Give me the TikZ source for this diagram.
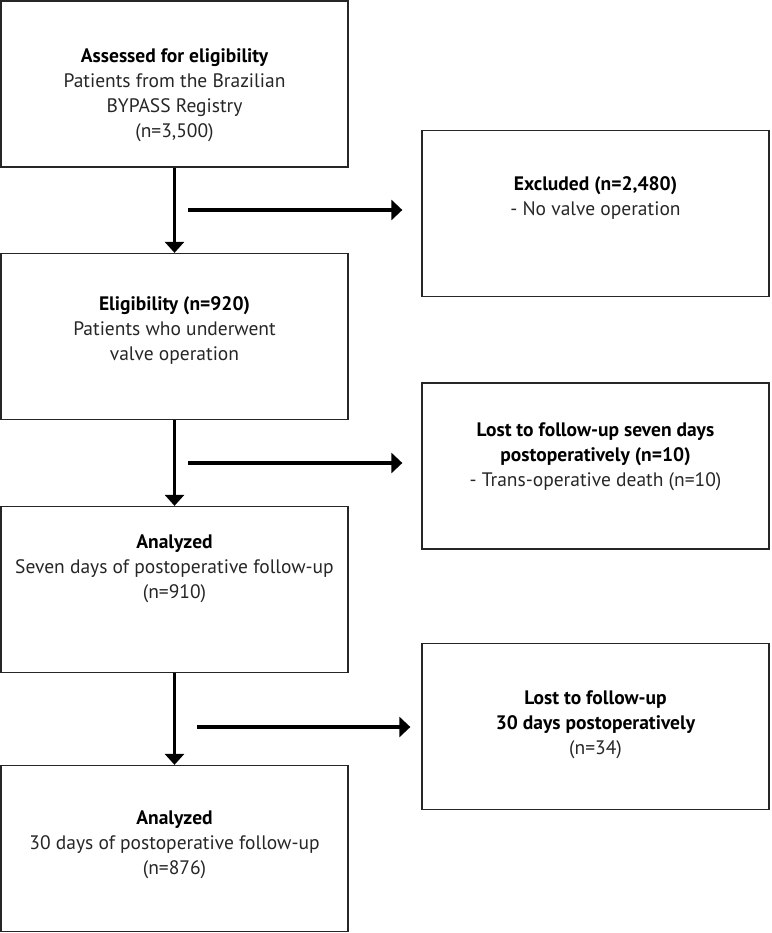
\documentclass[tikz,border=0pt]{standalone}
\usepackage{fontspec}
\setmainfont{PT Sans}
\usetikzlibrary{arrows.meta}

\begin{document}
\begin{tikzpicture}[
	x=1pt, y=-1pt,
	box/.style = {draw=black!85, line width=1.3pt, minimum width=347pt, minimum height=166pt, inner sep=0pt},
	txt/.style = {align=center, inner sep=0pt, text=black!85, font=\fontsize{19.5}{25}\selectfont},
	down/.style = {line width=3pt, -{Triangle[width=19pt, length=11pt]}},
	side/.style = {line width=4pt, -{Triangle[width=20pt, length=11pt]}},
]
	\useasboundingbox (0,0) rectangle (771,933);

	%% The main column
	\node [box] at (174.5, 84) (assessed) {};
	\node [box] at (174.5, 336.5) (eligible) {};
	\node [box] at (174.5, 589.5) (seven) {};
	\node [box] at (174.5, 848.5) (thirty) {};

	%% The side column
	\node [box] at (595.5, 213.5) (excluded) {};
	\node [box] at (595.5, 466) (lostseven) {};
	\node [box] at (595.5, 726.5) (lostthirty) {};

	%% Texts of the main column
	\node [txt] at (174.5, 95) (assessed-t) {\textbf{\color{black}Assessed for eligibility}\\Patients from the Brazilian\\BYPASS Registry\\(n=3,500)};
	\node [txt] at (174.5, 330) (eligible-t) {\textbf{\color{black}Eligibility (n=920)}\\Patients who underwent\\valve operation};
	\node [txt] at (174.5, 568.5) (seven-t) {\textbf{\color{black}Analyzed}\\Seven days of postoperative follow-up\\(n=910)};
	\node [txt] at (174.5, 845) (thirty-t) {\textbf{\color{black}Analyzed}\\30 days of postoperative follow-up\\(n=876)};

	%% Texts of the side column
	\node [txt] at (595.5, 197.5) (excluded-t) {\textbf{\color{black}Excluded (n=2,480)}\\- No valve operation};
	\node [txt] at (595.5, 456.5) (lostseven-t) {\textbf{\color{black}Lost to follow-up seven days}\\\textbf{\color{black}postoperatively (n=10)}\\- Trans-operative death (n=10)};
	\node [txt] at (595.5, 724.5) (lostthirty-t) {\textbf{\color{black}Lost to follow-up}\\\textbf{\color{black}30 days postoperatively}\\(n=34)};

	%% Down the main column
	\foreach \a/\b in {assessed/eligible, eligible/seven, seven/thirty}{%
		\draw [down] (\a.south) -- (\b.north);
	}

	%% Out to the side column
	\coordinate (out-1) at (188, 210);
	\coordinate (out-2) at (188, 463);
	\coordinate (out-3) at (197, 727);
	\draw [side, shorten >=19pt] (out-1) -- (out-1 -| excluded.west);
	\draw [side, shorten >=19pt] (out-2) -- (out-2 -| lostseven.west);
	\draw [side, shorten >=11pt] (out-3) -- (out-3 -| lostthirty.west);

\end{tikzpicture}
\end{document}
